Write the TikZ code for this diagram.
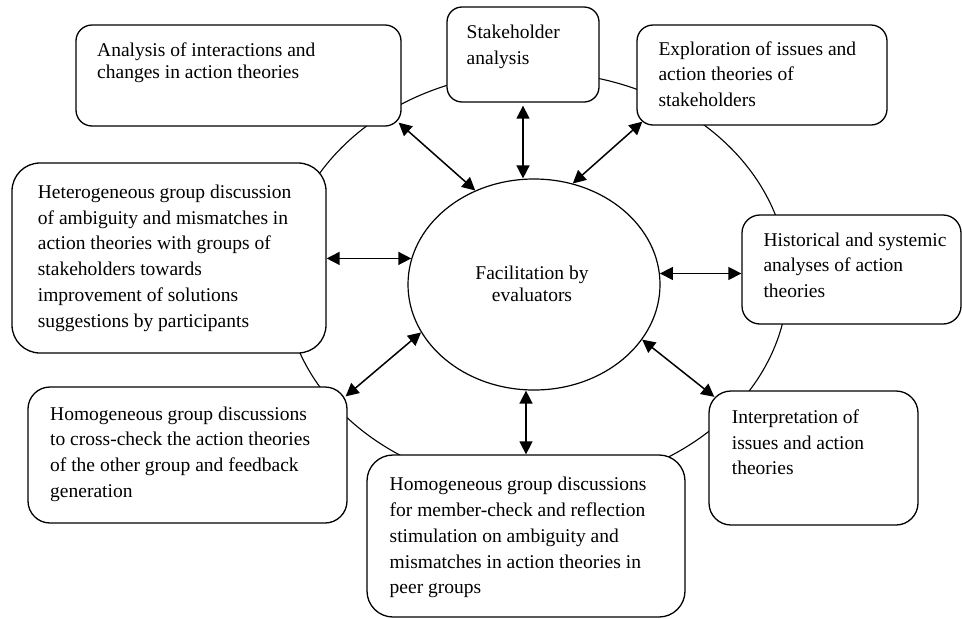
\documentclass[tikz,border=0pt]{standalone}
\usepackage{fontspec}
\setmainfont{Liberation Serif}
\usetikzlibrary{shapes.geometric,arrows.meta}
\tikzset{
  box/.style={draw, fill=white, line width=1.3pt, rectangle, inner sep=0pt},
  txt/.style={inner sep=0pt, align=left, anchor=base west, font=\fontsize{19.5}{25.8}\selectfont},
  tight/.style={font=\fontsize{19.5}{21.7}\selectfont},
  dbl/.style={{Triangle[width=13pt,length=13pt]}-{Triangle[width=13pt,length=13pt]}, line width=1.5pt},
}
\begin{document}
\begin{tikzpicture}[x=1pt,y=-1pt]
\useasboundingbox (0,0) rectangle (962,619);
% outer ring
\draw[line width=1.1pt] (536,280) ellipse [x radius=252, y radius=208];
% boxes
\node[box, minimum width=325, minimum height=101, rounded corners=16] (b1) at (238.5,75.5) {};
\node[box, minimum width=152, minimum height=95, rounded corners=15] (b2) at (523,54.5) {};
\node[box, minimum width=250, minimum height=100, rounded corners=16] (b3) at (762,75) {};
\node[box, minimum width=219, minimum height=109, rounded corners=18] (b4) at (851.5,269.5) {};
\node[box, minimum width=314, minimum height=190, rounded corners=28] (b5) at (169,258) {};
\node[box, minimum width=319, minimum height=136, rounded corners=22] (b6) at (187.5,455) {};
\node[box, minimum width=318, minimum height=162, rounded corners=26] (b7) at (526,536) {};
\node[box, minimum width=209, minimum height=134, rounded corners=22] (b8) at (813.5,458) {};
% centre
\node[draw, ellipse, line width=1.2pt, minimum width=252, minimum height=211, inner sep=0pt] (c) at (534,284.5) {};
% texts (anchor = baseline of last line)
\node[txt, tight] (t1) at (97,78.2) {Analysis of interactions and\\changes in action theories};
\node[txt] (t2) at (466.5,64.1) {Stakeholder\\analysis};
\node[txt] (t3) at (658.3,106.6) {Exploration of issues and\\action theories of\\stakeholders};
\node[txt] (t4) at (763.3,297.6) {Historical and systemic\\analyses of action\\theories};
\node[txt] (t5) at (37.7,327.3) {Heterogeneous group discussion\\of ambiguity and mismatches in\\action theories with groups of\\stakeholders towards\\improvement of solutions\\suggestions by participants};
\node[txt] (t6) at (50,497.4) {Homogeneous group discussions\\to cross-check the action theories\\of the other group and feedback\\generation};
\node[txt] (t7) at (389.5,593.9) {Homogeneous group discussions\\for member-check and reflection\\stimulation on ambiguity and\\mismatches in action theories in\\peer groups};
\node[txt] (t8) at (731.7,474.9) {Interpretation of\\issues and action\\theories};
\node[txt, tight, align=center, anchor=base] (tc) at (532,301) {Facilitation by\\evaluators};
% connectors
\draw[dbl] ([shift={(-3,-4)}]b1.south east) -- (c.122.5);
\draw[dbl] ([yshift=-3pt]b2.south) -- (b2.south |- c.north);
\draw[dbl] ([shift={(6,-4)}]b3.south west) -- (c.69.5);
\draw[dbl] (b5.east |- c.168.6) -- (c.168.6);
\draw[dbl] (c.5.8) -- (b4.west |- c.5.8);
\draw[dbl] ([shift={(-2,10)}]b6.north east) -- (c.203.2);
\draw[dbl] (c.south -| b7.north) -- (b7.north);
\draw[dbl] (c.333.9) -- ([shift={(6,6.5)}]b8.north west);
\end{tikzpicture}
\end{document}
